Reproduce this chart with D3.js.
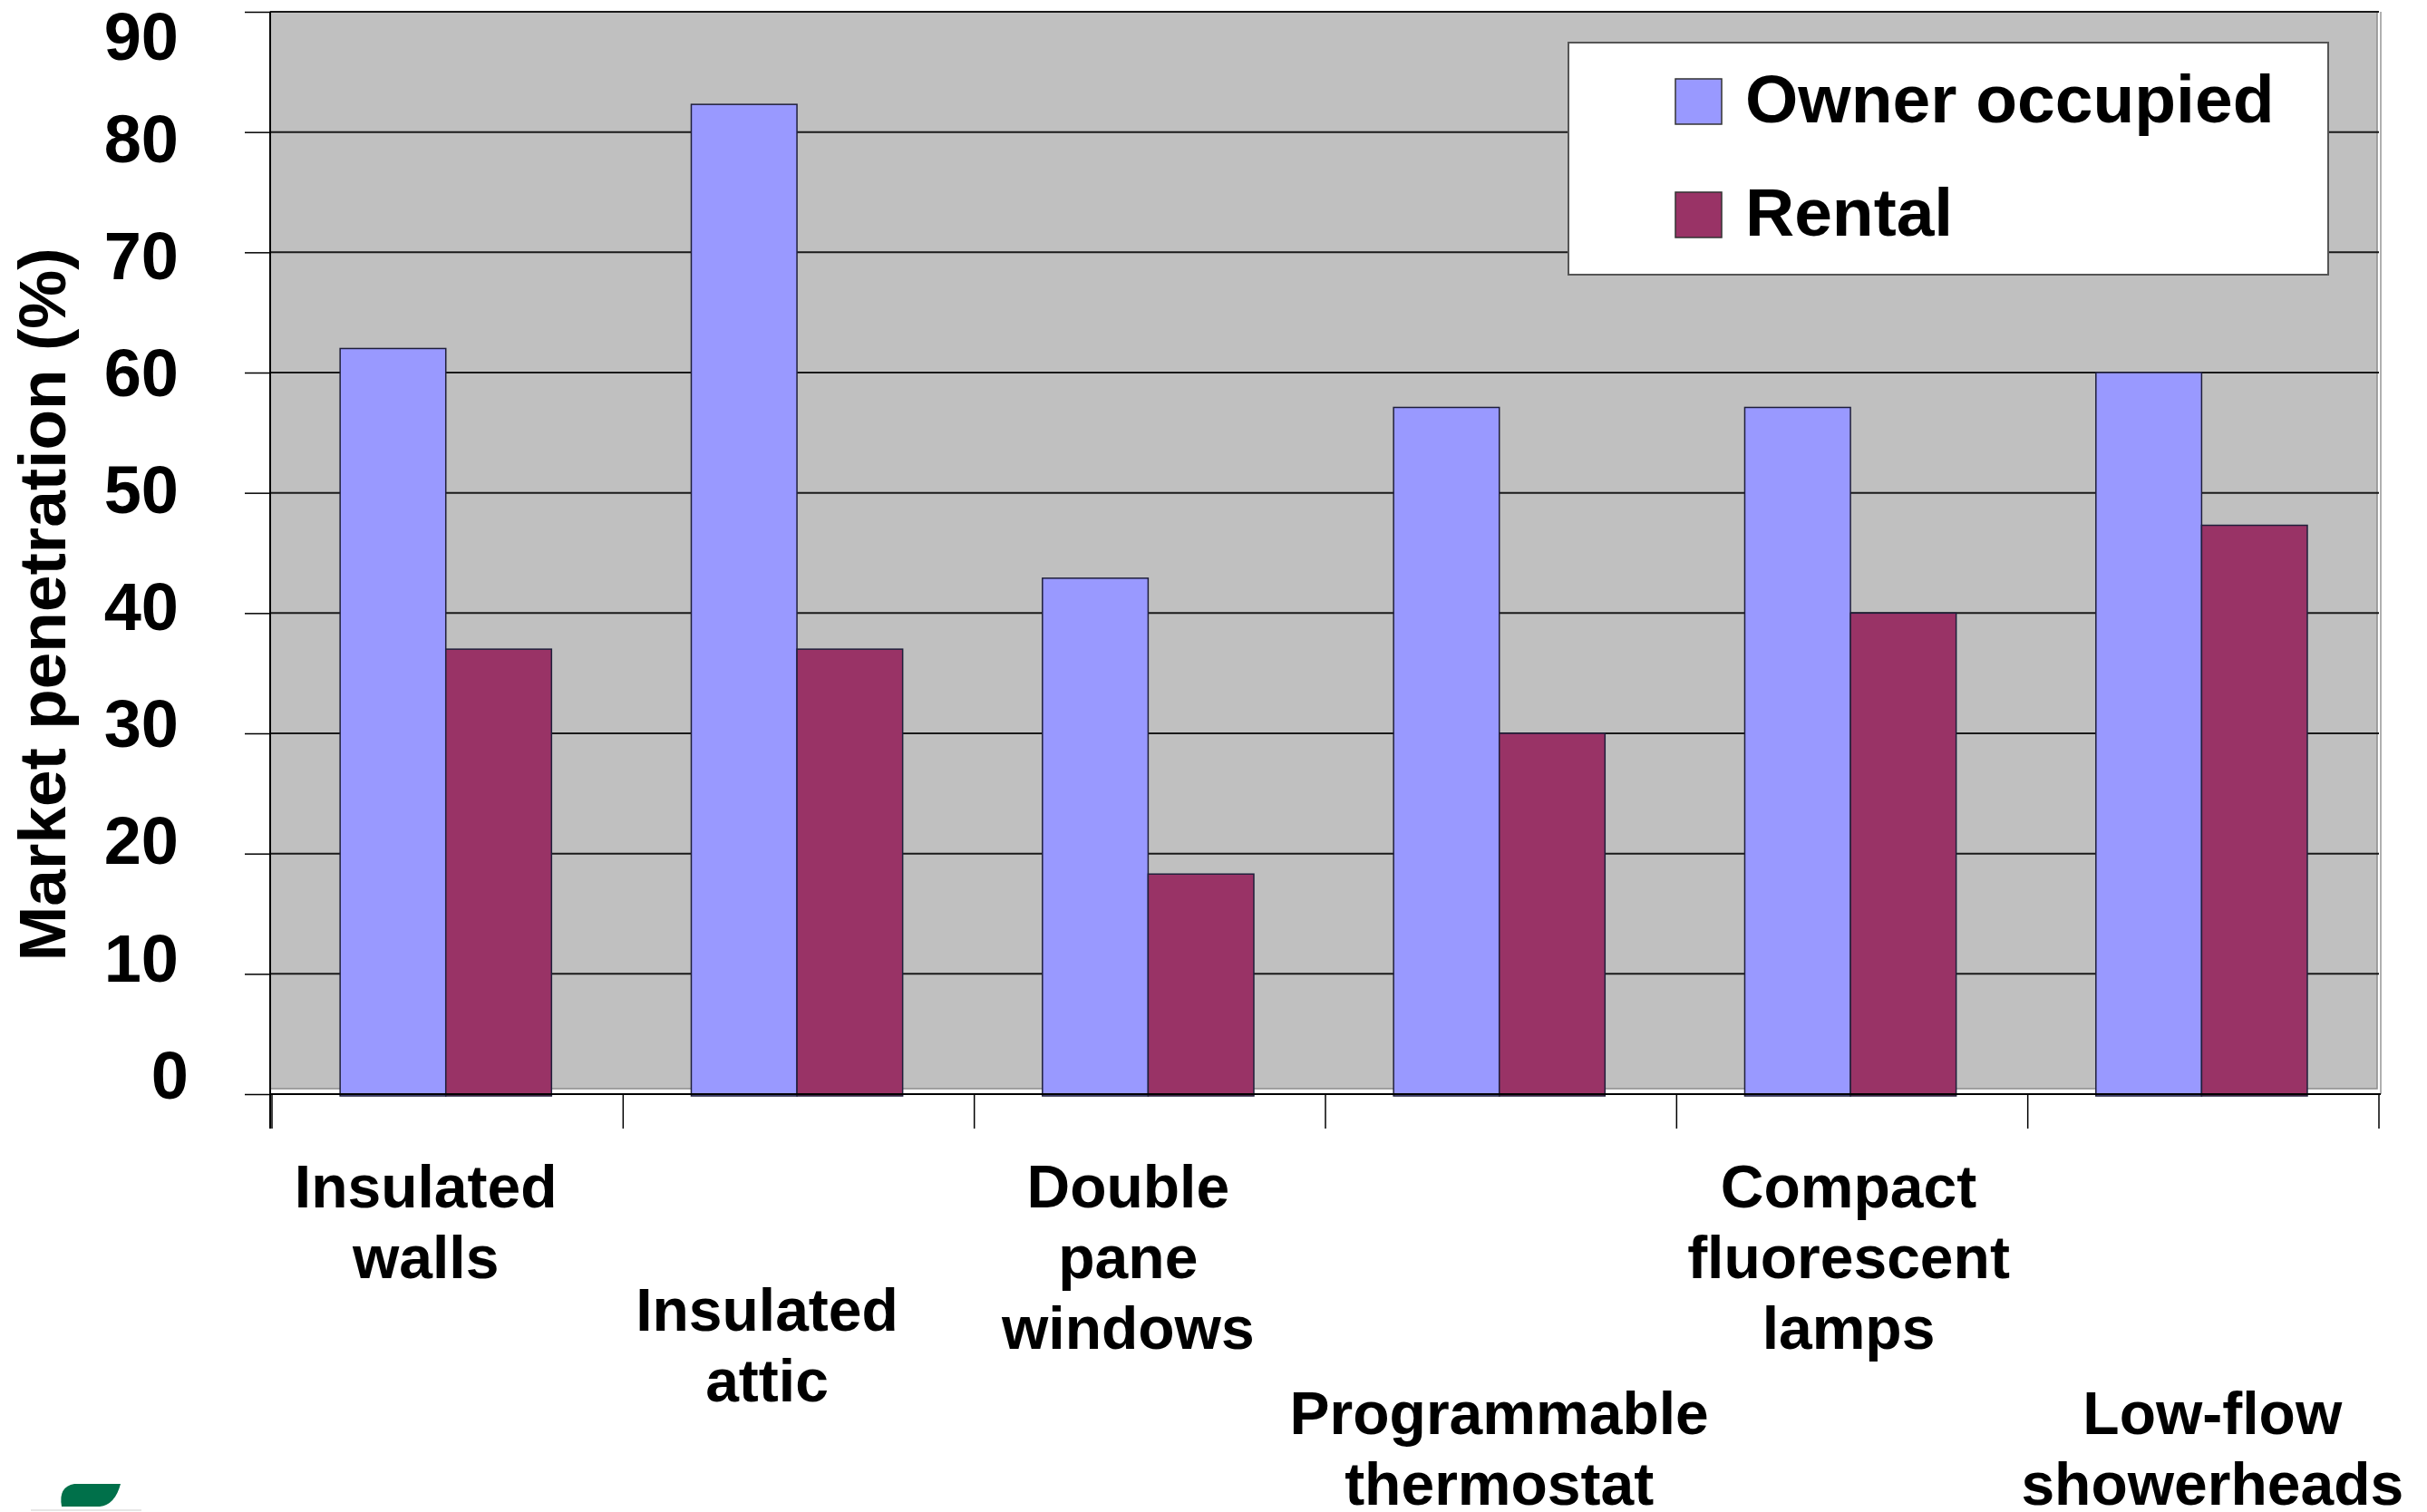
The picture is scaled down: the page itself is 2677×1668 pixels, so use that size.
<!DOCTYPE html>
<html>
<head>
<meta charset="utf-8">
<script src="https://cdn.jsdelivr.net/npm/d3@7/dist/d3.min.js"></script>
<style>
  html, body { margin: 0; padding: 0; background: #ffffff; }
  svg { display: block; font-family: "Liberation Sans", Arial, Helvetica, sans-serif; font-weight: bold; }
</style>
</head>
<body>
<svg id="chart" width="2677" height="1668"></svg>
<script>
// Market penetration of efficiency measures, owner-occupied vs rental homes
const categories = [
  ["Insulated", "walls"],
  ["Insulated", "attic"],
  ["Double", "pane", "windows"],
  ["Programmable", "thermostat"],
  ["Compact", "fluorescent", "lamps"],
  ["Low-flow", "showerheads"]
];
const seriesNames = ["Owner occupied", "Rental"];
const ownerOccupied = [62, 82.3, 42.9, 57.1, 57.1, 60];
const rental = [37, 37, 18.3, 30, 40, 47.3];
const yTicks = [0, 10, 20, 30, 40, 50, 60, 70, 80, 90];
const yTitle = "Market penetration (%)";

const colors = { "Owner occupied": "#9999FF", "Rental": "#993366" };

const svg = d3.select("#chart");
const W = 2677, H = 1668;
svg.append("rect").attr("width", W).attr("height", H).attr("fill", "#ffffff");

// plot frame
const pLeft = 300, pRight = 2624, pTop = 13, pBottom = 1207;

const y = d3.scaleLinear().domain([0, 90]).range([pBottom, pTop]);
// tick labels sit a little above their ticks; the top one is kept inside the frame
const yLab = d3.scaleLinear().domain([0, 90]).range([1185, 23]);

const keys = categories.map(c => c.join(" "));
const x = d3.scaleBand().domain(keys).range([pLeft, pRight]).padding(0);
const bw = x.bandwidth();
const xs = d3.scaleBand().domain(seriesNames).range([bw * 0.194, bw * 0.796]).padding(0);

// plot background
svg.append("rect")
  .attr("x", pLeft - 2).attr("y", pTop)
  .attr("width", pRight - pLeft).attr("height", pBottom - 6 - pTop)
  .attr("fill", "#C0C0C0")
  .attr("stroke", "#8c8c8c").attr("stroke-width", 1.5);
svg.append("line")
  .attr("x1", pRight + 2).attr("x2", pRight + 2)
  .attr("y1", pTop).attr("y2", pBottom)
  .attr("stroke", "#b0b0b0").attr("stroke-width", 2);

// gridlines
svg.append("g")
  .selectAll("line")
  .data(yTicks.filter(d => d > 0))
  .join("line")
  .attr("x1", pLeft - 2).attr("x2", pRight)
  .attr("y1", d => y(d)).attr("y2", d => y(d))
  .attr("stroke", "#1a1a1a").attr("stroke-width", 2);

// y axis line and ticks
const yAxis = d3.axisLeft(y).tickValues(yTicks).tickSize(28).tickFormat("");
const gy = svg.append("g").attr("transform", `translate(${pLeft - 2},0)`).call(yAxis);
gy.select(".domain").attr("stroke", "#000").attr("stroke-width", 2)
  .attr("d", `M0,${pTop}V${pBottom + 38}`);
gy.selectAll(".tick line").attr("stroke", "#000").attr("stroke-width", 1.5);

// y tick labels
svg.append("g")
  .selectAll("text")
  .data(yTicks)
  .join("text")
  .attr("x", d => d === 0 ? 208 : 197)
  .attr("y", d => Math.max(yLab(d), 39))
  .attr("dy", "0.36em")
  .attr("text-anchor", "end")
  .attr("font-size", 74)
  .attr("fill", "#000")
  .text(d => d);

// bars
const rows = keys.map((k, i) => ({ key: k, values: [
  { name: seriesNames[0], value: ownerOccupied[i] },
  { name: seriesNames[1], value: rental[i] }
]}));

svg.append("g")
  .selectAll("g")
  .data(rows)
  .join("g")
  .attr("transform", d => `translate(${x(d.key)},0)`)
  .selectAll("rect")
  .data(d => d.values)
  .join("rect")
  .attr("x", d => xs(d.name))
  .attr("width", xs.bandwidth())
  .attr("y", d => y(d.value))
  .attr("height", d => y(0) - y(d.value) + 2)
  .attr("fill", d => colors[d.name])
  .attr("stroke", "#1f1f3a").attr("stroke-width", 1.5);

// x axis line and category boundary ticks
const xAxisG = svg.append("g");
xAxisG.append("line")
  .attr("x1", pLeft - 2).attr("x2", pRight + 2)
  .attr("y1", pBottom).attr("y2", pBottom)
  .attr("stroke", "#000").attr("stroke-width", 2);
const bounds = keys.map(k => x(k)).concat([pRight]);
xAxisG.selectAll("line.b")
  .data(bounds)
  .join("line")
  .attr("class", "b")
  .attr("x1", d => d).attr("x2", d => d)
  .attr("y1", pBottom).attr("y2", pBottom + 38)
  .attr("stroke", "#000").attr("stroke-width", 1.5);

// staggered category labels
const labelDx = [-24, -35, -24, -2, -4, 10];
const labelBase = [1332, 1468, 1332, 1582, 1332, 1582];
const lineH = 78;
const lab = svg.append("g")
  .selectAll("text")
  .data(categories)
  .join("text")
  .attr("text-anchor", "middle")
  .attr("font-size", 66)
  .attr("fill", "#000");
lab.each(function(lines, i) {
  const cx = x(keys[i]) + bw / 2 + labelDx[i];
  d3.select(this).selectAll("tspan")
    .data(lines)
    .join("tspan")
    .attr("x", cx)
    .attr("y", (d, j) => labelBase[i] + j * lineH)
    .text(d => d);
});

// y axis title
svg.append("text")
  .attr("transform", "translate(72,667) rotate(-90)")
  .attr("text-anchor", "middle")
  .attr("font-size", 73)
  .attr("fill", "#000")
  .text(yTitle);

// legend
const lg = svg.append("g");
lg.append("rect")
  .attr("x", 1730).attr("y", 47)
  .attr("width", 838).attr("height", 256)
  .attr("fill", "#ffffff")
  .attr("stroke", "#555").attr("stroke-width", 2);
const li = lg.selectAll("g.item")
  .data(seriesNames)
  .join("g")
  .attr("class", "item")
  .attr("transform", (d, i) => `translate(0,${i * 125})`);
li.append("rect")
  .attr("x", 1848).attr("y", 87)
  .attr("width", 51).attr("height", 50)
  .attr("fill", d => colors[d])
  .attr("stroke", "#333").attr("stroke-width", 1.5);
li.append("text")
  .attr("x", 1925).attr("y", 135)
  .attr("font-size", 75)
  .attr("fill", "#000")
  .text(d => d);

// small green leaf emblem at lower left
svg.append("path")
  .attr("d", "M82,1637 L133,1637 Q127,1660 110,1662 L68,1662 Q64,1640 82,1637 Z")
  .attr("fill", "#00704A");
svg.append("line")
  .attr("x1", 34).attr("x2", 156)
  .attr("y1", 1666).attr("y2", 1666)
  .attr("stroke", "#e6e6e6").attr("stroke-width", 2);
</script>
</body>
</html>
